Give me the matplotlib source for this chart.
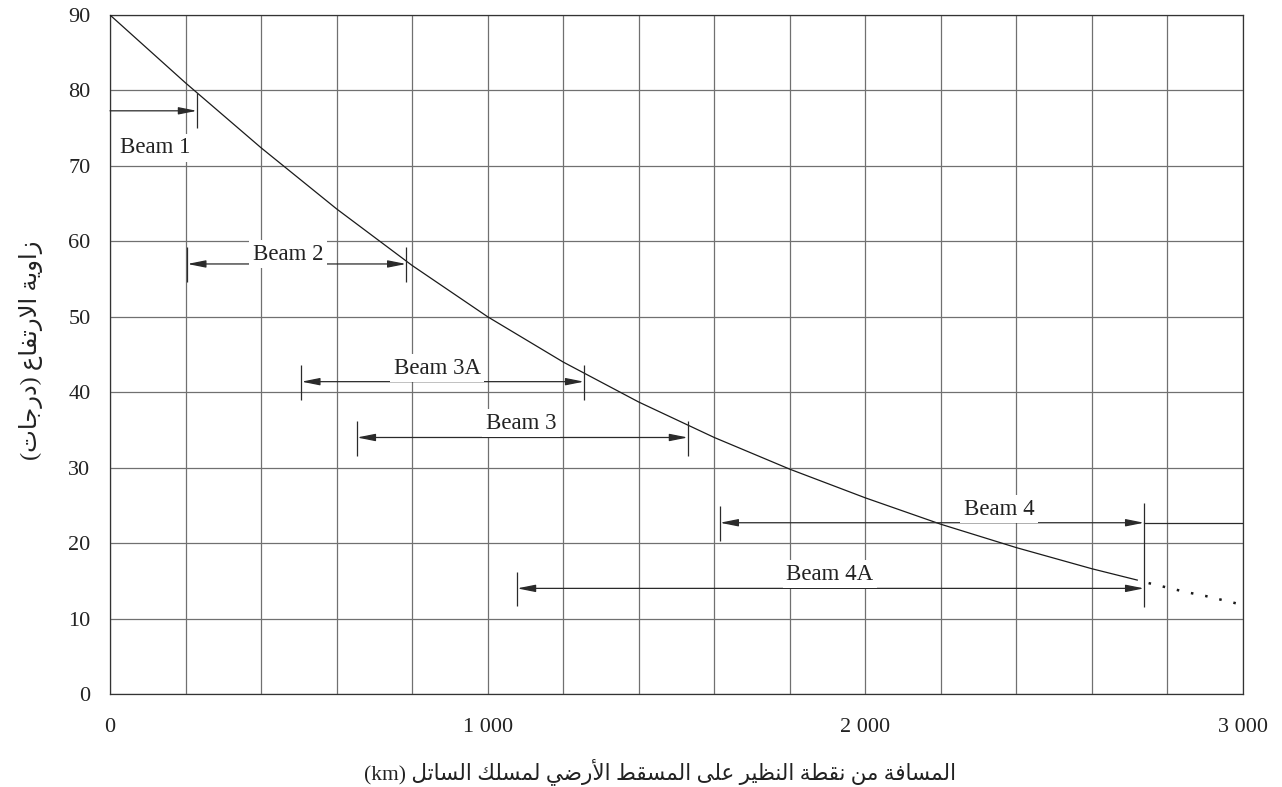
import matplotlib
matplotlib.use("Agg")
import matplotlib.pyplot as plt

# ---------------- data ----------------
dist_km = [0, 200, 400, 600, 800, 1000, 1200, 1400, 1600, 1800, 2000, 2200, 2400, 2600, 2720]
elev_deg = [90, 81.0, 72.4, 64.3, 56.8, 50.0, 44.0, 38.7, 34.0, 29.8, 26.0, 22.5, 19.4, 16.6, 15.1]
dot_dist_km = [2750, 2800, 2850, 2900, 2950, 3000]
dot_elev_deg = [14.7, 14.1, 13.5, 13.0, 12.4, 11.8]

beam_names = ["Beam 1", "Beam 2", "Beam 3A", "Beam 3", "Beam 4", "Beam 4A"]
beam_start = [0, 205, 507, 654, 1615, 1078]
beam_end = [230, 784, 1255, 1530, 2738, 2738]
beam_level = [77.3, 57.0, 41.4, 34.0, 22.7, 14.0]
label_x = [119, 471, 867, 1088, 2354, 1906]
label_y = [72.4, 58.3, 43.2, 35.9, 24.5, 15.9]

xticks = list(range(0, 3001, 200))
xtick_labels = ["0" if v == 0 else (f"{v // 1000} 000" if v % 1000 == 0 else "") for v in xticks]
yticks = list(range(0, 91, 10))

xlabel_ar = "المسافة من نقطة النظير على المسقط الأرضي لمسلك الساتل"
xlabel_unit = "(km)"
ylabel_ar = "زاوية الارتفاع (درجات)"

# ------------- minimal Arabic shaping (presentation forms, visual order) -------------
FORMS = {
    'ا': ('\uFE8D', '\uFE8E'), 'أ': ('\uFE83', '\uFE84'), 'ة': ('\uFE93', '\uFE94'),
    'د': ('\uFEA9', '\uFEAA'), 'ر': ('\uFEAD', '\uFEAE'), 'ز': ('\uFEAF', '\uFEB0'),
    'و': ('\uFEED', '\uFEEE'),
    'ت': ('\uFE95', '\uFE96', '\uFE97', '\uFE98'), 'ج': ('\uFE9D', '\uFE9E', '\uFE9F', '\uFEA0'),
    'س': ('\uFEB1', '\uFEB2', '\uFEB3', '\uFEB4'), 'ض': ('\uFEBD', '\uFEBE', '\uFEBF', '\uFEC0'),
    'ط': ('\uFEC1', '\uFEC2', '\uFEC3', '\uFEC4'), 'ظ': ('\uFEC5', '\uFEC6', '\uFEC7', '\uFEC8'),
    'ع': ('\uFEC9', '\uFECA', '\uFECB', '\uFECC'), 'ف': ('\uFED1', '\uFED2', '\uFED3', '\uFED4'),
    'ق': ('\uFED5', '\uFED6', '\uFED7', '\uFED8'), 'ك': ('\uFED9', '\uFEDA', '\uFEDB', '\uFEDC'),
    'ل': ('\uFEDD', '\uFEDE', '\uFEDF', '\uFEE0'), 'م': ('\uFEE1', '\uFEE2', '\uFEE3', '\uFEE4'),
    'ن': ('\uFEE5', '\uFEE6', '\uFEE7', '\uFEE8'), 'ي': ('\uFEF1', '\uFEF2', '\uFEF3', '\uFEF4'),
    'ى': ('\uFEEF', '\uFEF0', '\uFBE8', '\uFBE9'),
    'LA': ('\uFEFB', '\uFEFC'), 'LAH': ('\uFEF7', '\uFEF8'),
}


def shape_rtl(text):
    toks = []
    i = 0
    while i < len(text):
        c = text[i]
        if c == 'ل' and i + 1 < len(text) and text[i + 1] in 'اأ':
            toks.append('LA' if text[i + 1] == 'ا' else 'LAH')
            i += 2
        else:
            toks.append(c)
            i += 1
    out = []
    for k, t in enumerate(toks):
        if t not in FORMS:
            out.append({'(': ')', ')': '('}.get(t, t))
            continue
        f = FORMS[t]
        prev = toks[k - 1] if k > 0 else None
        nxt = toks[k + 1] if k + 1 < len(toks) else None
        jp = prev in FORMS and len(FORMS[prev]) == 4
        jn = len(f) == 4 and nxt in FORMS
        if jp and jn:
            out.append(f[3])
        elif jp:
            out.append(f[1])
        elif jn:
            out.append(f[2])
        else:
            out.append(f[0])
    return ''.join(reversed(out))


# ---------------- figure ----------------
SERIF = 'Liberation Serif'
AR_FAMILY = [SERIF, 'DejaVu Sans']
plt.rcParams['font.family'] = [SERIF, 'DejaVu Sans']

W, H = 1282, 787
fig = plt.figure(figsize=(W / 100, H / 100), dpi=100)
ax = fig.add_axes([110 / W, 1 - 694 / H, (1243 - 110) / W, (694 - 15) / H])

ax.set_xlim(0, 3000)
ax.set_ylim(0, 90)
ax.set_xticks(xticks)
ax.set_xticklabels(xtick_labels)
ax.set_yticks(yticks)
ax.tick_params(length=0, labelsize=16, colors='#222222')
ax.tick_params(axis='x', pad=17)
ax.tick_params(axis='y', pad=14)
ax.grid(True, color='#707070', linewidth=0.9)
ax.set_axisbelow(True)
for s in ax.spines.values():
    s.set_color('#333333')
    s.set_linewidth(0.9)

ax.plot(dist_km, elev_deg, color='#1a1a1a', linewidth=0.9, zorder=3)
ax.plot(dot_dist_km, dot_elev_deg, color='#1a1a1a', linewidth=1.8,
        linestyle=(0, (1, 4.8)), zorder=3)

LINE_C = '#2a2a2a'
arrow_kw = dict(arrowstyle='-|>,head_length=1.1,head_width=0.22', color=LINE_C,
                lw=0.9, shrinkA=0, shrinkB=0, mutation_scale=10)
arrow2_kw = dict(arrow_kw, arrowstyle='<|-|>,head_length=1.1,head_width=0.22')

for name, x0, x1, lev, lx, ly in zip(beam_names, beam_start, beam_end, beam_level, label_x, label_y):
    if name == "Beam 1":
        ax.annotate('', xy=(x1, lev), xytext=(x0, lev), arrowprops=arrow_kw, zorder=4)
        ax.vlines(x1, lev - 2.3, lev + 2.3, color=LINE_C, lw=0.9, zorder=4)
    else:
        ax.annotate('', xy=(x1, lev), xytext=(x0, lev), arrowprops=arrow2_kw, zorder=4)
        ax.vlines(x0, lev - 2.4, lev + 2.2, color=LINE_C, lw=0.9, zorder=4)
        if x1 != beam_end[-1]:
            ax.vlines(x1, lev - 2.4, lev + 2.2, color=LINE_C, lw=0.9, zorder=4)
    ax.text(lx, ly, name, ha='center', va='center', fontsize=16.5, color='#222222',
            zorder=5, bbox=dict(boxstyle='square,pad=0.15', fc='white', ec='none'))

# shared long tick at the end of beams 4 / 4A and the continuation line of beam 4
ax.vlines(beam_end[-1], 11.5, 25.3, color=LINE_C, lw=0.9, zorder=4)
ax.plot([beam_end[4], 3000], [beam_level[4], beam_level[4]], color=LINE_C, lw=0.9, zorder=4)

fig.text(660 / W, 1 - 772 / H, xlabel_unit + " " + shape_rtl(xlabel_ar),
         ha='center', va='center', fontsize=15.5, family=AR_FAMILY, color='#222222')
fig.text(31 / W, 1 - 350 / H, shape_rtl(ylabel_ar), rotation=90,
         ha='center', va='center', fontsize=17.5, family=AR_FAMILY, color='#222222')

fig.savefig('out.png', dpi=100)
